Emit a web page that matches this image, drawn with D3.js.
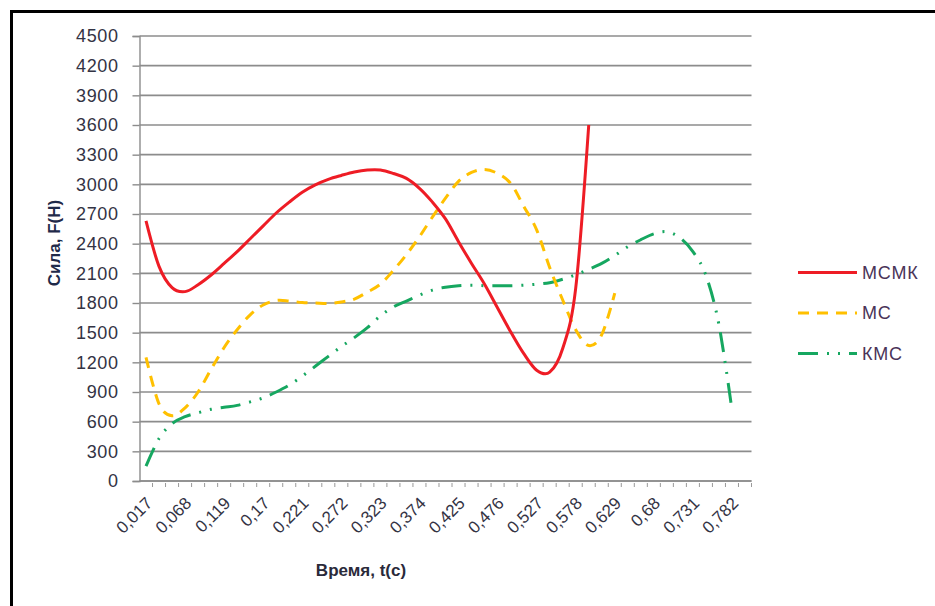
<!DOCTYPE html>
<html>
<head>
<meta charset="utf-8">
<script src="https://cdn.jsdelivr.net/npm/d3@7"></script>
<style>
  body { margin: 0; background: #fff; }
  text { font-family: "Liberation Sans", Arial, sans-serif; }
</style>
</head>
<body>
<div id="viz"></div>
<script>
// time categories, s (every third one gets a label)
const times = ["0,017","0,034","0,051","0,068","0,085","0,102","0,119","0,136","0,153","0,17",
  "0,187","0,204","0,221","0,238","0,255","0,272","0,289","0,306","0,323","0,34",
  "0,357","0,374","0,391","0,408","0,425","0,442","0,459","0,476","0,493","0,51",
  "0,527","0,544","0,561","0,578","0,595","0,612","0,629","0,646","0,663","0,68",
  "0,697","0,714","0,731","0,748","0,765","0,782","0,799"];

const yTicks = [0, 300, 600, 900, 1200, 1500, 1800, 2100, 2400, 2700, 3000, 3300, 3600, 3900, 4200, 4500];

// force, N
const msmk = [2630, 2170, 1955, 1915, 1985, 2083, 2200, 2320, 2450, 2580,
  2710, 2820, 2920, 2995, 3050, 3090, 3125, 3145, 3145, 3110,
  3060, 2960, 2820, 2650, 2420, 2200, 1990, 1750, 1510, 1290,
  1120, 1100, 1340, 1950, 3600];
const ms = [1250, 780, 660, 740, 900, 1130, 1350, 1530, 1680, 1780,
  1825, 1820, 1805, 1800, 1795, 1810, 1840, 1910, 1990, 2130,
  2290, 2470, 2670, 2860, 3030, 3120, 3150, 3110, 3010, 2780,
  2540, 2160, 1830, 1530, 1370, 1480, 1900];
const kms = [150, 430, 580, 650, 690, 725, 745, 765, 800, 840,
  900, 970, 1060, 1160, 1260, 1360, 1450, 1550, 1670, 1760,
  1820, 1880, 1930, 1960, 1975, 1980, 1975, 1975, 1975, 1980,
  1990, 2005, 2040, 2085, 2140, 2200, 2280, 2370, 2440, 2500,
  2520, 2460, 2320, 2080, 1580, 720];

const seriesNames = ["МСМК", "МС", "КМС"];

const W = 935, H = 606;
const plot = { left: 139.5, right: 751.5, top: 36, bottom: 481 };

const svg = d3.select("#viz").append("svg")
  .attr("width", W)
  .attr("height", H);

svg.append("rect").attr("width", W).attr("height", H).attr("fill", "#fff");

// frame (only top and left edges show in the picture)
svg.append("line").attr("x1", 11).attr("x2", W).attr("y1", 11.5).attr("y2", 11.5)
  .attr("stroke", "#000").attr("stroke-width", 3);
svg.append("line").attr("x1", 11.5).attr("x2", 11.5).attr("y1", 10).attr("y2", H)
  .attr("stroke", "#000").attr("stroke-width", 3);

const x = d3.scaleBand()
  .domain(d3.range(times.length))
  .range([plot.left, plot.right])
  .paddingInner(0)
  .paddingOuter(0);
const cx = i => x(i) + x.bandwidth() / 2;

const y = d3.scaleLinear()
  .domain([0, 4500])
  .range([plot.bottom, plot.top]);

// gridlines
svg.append("g")
  .selectAll("line")
  .data(yTicks)
  .enter().append("line")
  .attr("x1", plot.left)
  .attr("x2", plot.right)
  .attr("y1", d => y(d))
  .attr("y2", d => y(d))
  .attr("stroke", "#8c8c8c")
  .attr("stroke-width", 1.6);

// y axis
const yAxis = svg.append("g")
  .attr("transform", `translate(${plot.left},0)`)
  .call(d3.axisLeft(y).tickValues(yTicks).tickSize(7).tickPadding(14).tickFormat(d => d));
yAxis.select(".domain").attr("stroke", "#8c8c8c").attr("stroke-width", 1.4);
yAxis.selectAll(".tick line").attr("stroke", "#8c8c8c").attr("stroke-width", 1.4);
yAxis.selectAll(".tick text")
  .attr("font-size", 18)
  .attr("letter-spacing", 0.6)
  .attr("fill", "#333344")
  .style("font-family", "'Liberation Sans', Arial, sans-serif");

// x axis line and small ticks at category boundaries
svg.append("line")
  .attr("x1", plot.left).attr("x2", plot.right)
  .attr("y1", plot.bottom).attr("y2", plot.bottom)
  .attr("stroke", "#8c8c8c").attr("stroke-width", 1.6);

svg.append("g")
  .selectAll("line")
  .data(d3.range(1, times.length + 1))
  .enter().append("line")
  .attr("x1", i => i < times.length ? x(i) : plot.right)
  .attr("x2", i => i < times.length ? x(i) : plot.right)
  .attr("y1", plot.bottom + 2)
  .attr("y2", plot.bottom + 6)
  .attr("stroke", "#9a9a9a")
  .attr("stroke-width", 1);

svg.append("g")
  .selectAll("text")
  .data(times.map((t, i) => ({ t, i })).filter(d => d.i % 3 === 0))
  .enter().append("text")
  .attr("transform", d => `translate(${cx(d.i) - 1},${plot.bottom + 15}) rotate(-45)`)
  .attr("text-anchor", "end")
  .attr("dy", "0.7em")
  .attr("font-size", 17)
  .attr("fill", "#333344")
  .text(d => d.t);

// axis titles
svg.append("text")
  .attr("x", 361)
  .attr("y", 576)
  .attr("text-anchor", "middle")
  .attr("font-size", 17)
  .attr("font-weight", "bold")
  .attr("fill", "#2a2a3a")
  .text("Время, t(c)");

svg.append("text")
  .attr("transform", "translate(60,243) rotate(-90)")
  .attr("text-anchor", "middle")
  .attr("font-size", 17)
  .attr("font-weight", "bold")
  .attr("fill", "#1f2a4a")
  .text("Сила, F(H)");

// series
const series = [
  { name: seriesNames[0], values: msmk, color: "#ee1c25", dash: null },
  { name: seriesNames[1], values: ms, color: "#ffc000", dash: "11,8" },
  { name: seriesNames[2], values: kms, color: "#16a760", dash: "20,9,2,9,2,9" }
];

const line = d3.line()
  .x((d, i) => cx(i))
  .y(d => y(d))
  .curve(d3.curveCatmullRom.alpha(0));

const lines = svg.append("g");
series.slice().reverse().forEach(s => {
  lines.append("path")
    .datum(s.values)
    .attr("d", line)
    .attr("fill", "none")
    .attr("stroke", s.color)
    .attr("stroke-width", 3)
    .attr("stroke-dasharray", s.dash);
});

// legend
const legend = svg.append("g");
series.forEach((s, k) => {
  const ly = 272.5 + k * 40.5;
  legend.append("line")
    .attr("x1", 798).attr("x2", 857)
    .attr("y1", ly).attr("y2", ly)
    .attr("stroke", s.color)
    .attr("stroke-width", 3)
    .attr("stroke-dasharray", s.dash);
  legend.append("text")
    .attr("x", 862)
    .attr("y", ly)
    .attr("dy", "0.36em")
    .attr("font-size", 18)
    .attr("letter-spacing", 0.8)
    .attr("fill", "#4a3458")
    .text(s.name);
});
</script>
</body>
</html>
